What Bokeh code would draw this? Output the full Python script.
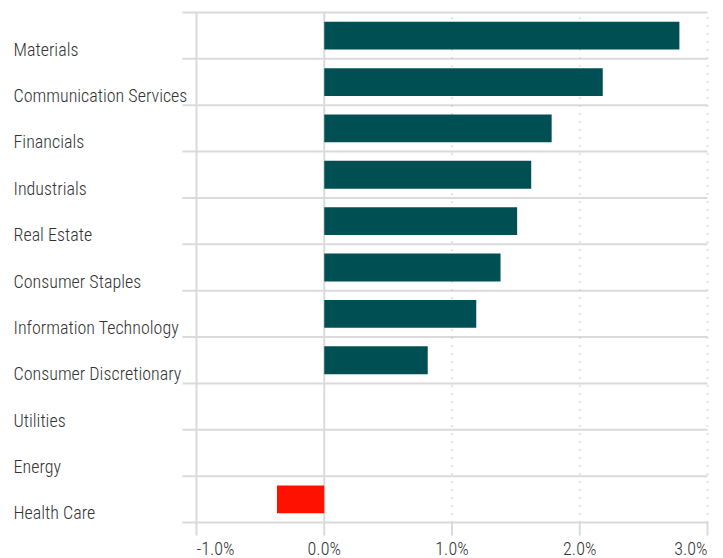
from bokeh.plotting import figure
from bokeh.models import ColumnDataSource, LabelSet, Range1d
from bokeh.core.properties import value
from bokeh.embed import file_html
from bokeh.resources import INLINE

# ---- data ----
sectors = ["Materials", "Communication Services", "Financials", "Industrials",
           "Real Estate", "Consumer Staples", "Information Technology",
           "Consumer Discretionary", "Utilities", "Energy", "Health Care"]
returns = [2.78, 2.18, 1.78, 1.62, 1.51, 1.38, 1.19, 0.81, 0.0, 0.0, -0.37]
x_ticks = [-1, 0, 1, 2, 3]
x_tick_labels = ["-1.0%", "0.0%", "1.0%", "2.0%", "3.0%"]

# ---- style / layout ----
POS = "#004F52"
NEG = "#FF1100"
GRID = "#DADADA"
DOT = "#C8C8C8"
TXT = "#333333"
FONT = ("'Roboto Condensed Light', 'Roboto Condensed', 'Liberation Sans Narrow', "
        "'DejaVu Sans Condensed', sans-serif")
FS = "18px"
W, H = 723, 558
PL, PR, PT, PB = 196, 707, 12, 522   # plot area in pixels

n = len(sectors)
ppx = (PR - PL) / (x_ticks[-1] - x_ticks[0])
ppy = (PB - PT) / n
x_rng = Range1d(x_ticks[0] - PL / ppx, x_ticks[-1] + (W - PR) / ppx)
y_rng = Range1d(-(H - PB) / ppy, n + PT / ppy)

ypos = [n - i - 0.5 for i in range(n)]
colors = [POS if v >= 0 else NEG for v in returns]
src = ColumnDataSource(dict(y=ypos, v=returns, c=colors, name=sectors,
                            x0=[x_ticks[0]] * n))

p = figure(width=W, height=H, output_backend="svg", toolbar_location=None,
           x_range=x_rng, y_range=y_rng, x_axis_location=None, y_axis_location=None,
           min_border=0)
p.outline_line_color = None
p.grid.visible = False

bounds = list(range(n + 1))
tick_len = 13 / ppy
sep_left = x_ticks[0] - 14 / ppx

# horizontal separators between categories (extend a little left of the plot)
p.segment(x0=[sep_left] * len(bounds), x1=[x_ticks[-1]] * len(bounds),
          y0=bounds, y1=bounds, line_color=GRID, line_width=2)

neg_ticks = [t for t in x_ticks if t <= 0]
pos_ticks = [t for t in x_ticks if t > 0]
# solid vertical lines at -1 and 0 (including their tick marks)
p.segment(x0=neg_ticks, x1=neg_ticks, y0=[-tick_len] * len(neg_ticks),
          y1=[n] * len(neg_ticks), line_color=GRID, line_width=2)
# dotted grid lines at positive ticks
p.segment(x0=pos_ticks, x1=pos_ticks, y0=[0] * len(pos_ticks),
          y1=[n] * len(pos_ticks), line_color=DOT, line_width=2, line_dash="1 7")
# tick marks below plot for positive ticks
p.segment(x0=pos_ticks, x1=pos_ticks, y0=[-tick_len] * len(pos_ticks),
          y1=[0] * len(pos_ticks), line_color=GRID, line_width=2)

# bars
p.hbar(y="y", left=0, right="v", height=0.6, color="c", line_color=None, source=src)

# category labels
p.add_layout(LabelSet(x="x0", y="y", text="name", source=src,
                      x_offset=-(PL - 13), y_offset=-20, text_align="left",
                      text_baseline="alphabetic", text_font=value(FONT),
                      text_font_size=FS, text_color=TXT))

# x tick labels
aligns = ["left"] + ["center"] * (len(x_ticks) - 2) + ["right"]
tsrc = ColumnDataSource(dict(x=x_ticks, y=[0] * len(x_ticks), t=x_tick_labels, a=aligns))
p.add_layout(LabelSet(x="x", y="y", text="t", source=tsrc, y_offset=-32,
                      text_align="a", text_baseline="alphabetic",
                      text_font=value(FONT), text_font_size=FS, text_color=TXT))

open("out.html", "w").write(file_html(p, INLINE))
